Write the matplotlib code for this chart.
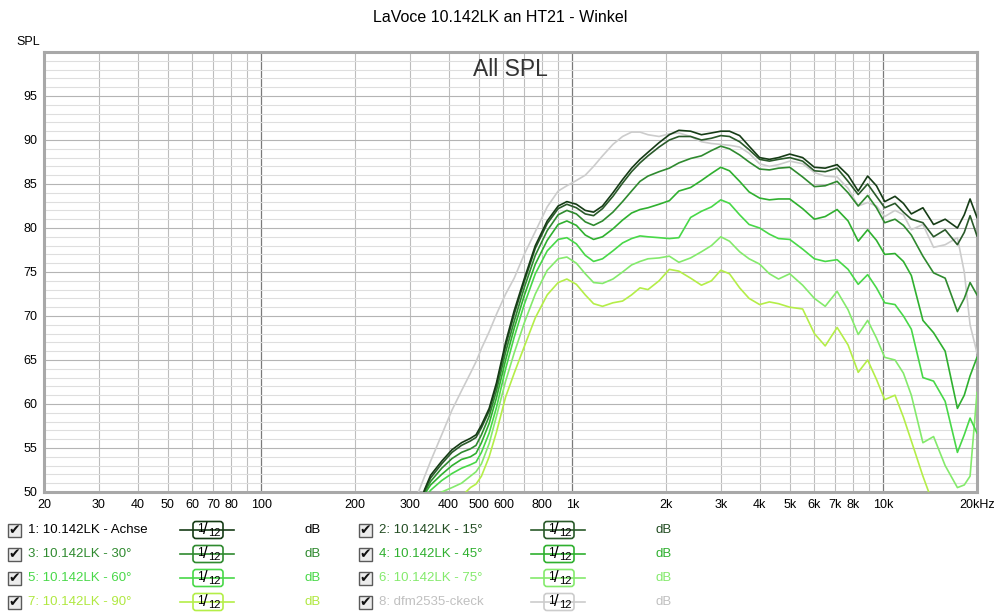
import numpy as np
import matplotlib
matplotlib.use("Agg")
import matplotlib.pyplot as plt
from matplotlib.patches import Rectangle, FancyBboxPatch
from matplotlib.lines import Line2D
from matplotlib.transforms import IdentityTransform
from matplotlib.ticker import NullLocator

plt.rcParams['font.family'] = ['Liberation Sans', 'DejaVu Sans']

# frequency points (Hz)
freq = [320, 335, 350, 380, 410, 440, 470, 490, 510, 540,
        570, 610, 650, 700, 760, 830, 900, 960, 1030, 1100,
        1170, 1250, 1350, 1450, 1550, 1650, 1750, 1900, 2050, 2200,
        2400, 2600, 2800, 3000, 3200, 3450, 3700, 4000, 4300, 4600,
        5000, 5500, 6000, 6500, 7100, 7700, 8300, 8900, 9500, 10100,
        10900, 11600, 12300, 13400, 14500, 15800, 17300, 18200, 19000, 20000]

achse = [48.0, 50.3, 51.9, 53.5, 54.8, 55.6, 56.1, 56.5, 57.6, 59.5,
         62.4, 67.0, 70.6, 74.2, 78.0, 80.8, 82.5, 83.0, 82.7, 82.0,
         81.8, 82.5, 84.0, 85.5, 86.8, 87.8, 88.6, 89.7, 90.6, 91.1,
         91.0, 90.6, 90.8, 91.0, 91.0, 90.5, 89.3, 88.0, 87.8, 88.0,
         88.4, 88.0, 86.9, 86.8, 87.2, 86.0, 84.2, 85.9, 84.8, 83.0,
         83.6, 82.8, 81.6, 82.3, 80.4, 81.0, 80.0, 81.5, 83.3, 81.2]

deg15 = [48.0, 50.2, 51.6, 53.2, 54.5, 55.3, 55.8, 56.2, 57.3, 59.2,
         62.1, 66.6, 70.2, 73.9, 77.7, 80.5, 82.2, 82.7, 82.3, 81.6,
         81.4, 82.2, 83.6, 85.1, 86.4, 87.4, 88.2, 89.2, 90.0, 90.4,
         90.4, 90.0, 90.2, 90.5, 90.4, 89.8, 88.9, 87.8, 87.6, 87.8,
         88.0, 87.6, 86.5, 86.4, 86.8, 85.3, 83.8, 85.0, 83.6, 82.3,
         82.8, 81.8, 81.0, 80.6, 79.0, 79.8, 78.1, 79.5, 81.4, 79.1]

deg30 = [48.0, 50.0, 51.2, 52.7, 53.8, 54.5, 54.9, 55.3, 56.5, 58.6,
         61.5, 65.9, 69.4, 73.2, 76.9, 79.7, 81.5, 82.0, 81.6, 80.7,
         80.3, 80.8, 81.8, 83.0, 84.2, 85.3, 85.9, 86.4, 86.8, 87.4,
         87.9, 88.2, 88.8, 89.3, 89.0, 88.3, 87.5, 86.7, 86.6, 86.8,
         86.9, 85.8, 84.7, 84.8, 85.3, 84.0, 82.5, 83.7, 82.3, 80.6,
         81.0, 80.3, 79.2, 76.8, 74.9, 74.3, 70.5, 72.0, 73.8, 72.4]

deg45 = [48.0, 49.8, 50.8, 52.0, 53.0, 53.7, 54.0, 54.4, 55.6, 57.8,
         60.7, 65.0, 68.6, 72.3, 75.9, 78.6, 80.4, 80.8, 80.3, 79.2,
         78.7, 79.0, 79.9, 80.9, 81.7, 82.1, 82.3, 82.7, 83.1, 84.2,
         84.6, 85.4, 86.2, 86.9, 86.5, 85.3, 84.1, 83.4, 83.2, 83.3,
         83.3, 82.2, 81.0, 81.3, 82.1, 80.8, 78.5, 79.8, 78.6, 77.0,
         77.1, 76.2, 74.6, 69.5, 68.1, 66.0, 59.5, 61.0, 63.2, 65.3]

deg60 = [48.0, 49.2, 50.2, 51.3, 52.1, 52.7, 53.1, 53.4, 54.5, 56.7,
         59.6, 64.0, 67.6, 71.3, 74.8, 77.4, 78.7, 78.9, 78.2, 76.9,
         76.2, 76.5, 77.4, 78.3, 78.8, 79.1, 79.0, 78.9, 78.8, 78.9,
         81.2, 81.9, 82.4, 83.2, 82.8, 81.5, 80.4, 80.0, 79.3, 78.8,
         78.7, 77.6, 76.5, 76.2, 76.4, 75.3, 73.6, 74.7, 73.2, 71.5,
         71.3, 70.0, 68.5, 63.0, 62.6, 60.3, 54.5, 56.5, 58.4, 56.7]

deg75 = [48.0, 48.5, 49.0, 50.0, 50.5, 51.0, 51.8, 52.3, 53.2, 55.5,
         58.6, 62.6, 65.8, 69.2, 72.5, 75.2, 76.5, 76.7, 76.0, 74.8,
         73.8, 73.7, 74.2, 75.0, 75.8, 76.2, 76.5, 76.6, 76.8, 76.1,
         76.6, 77.3, 78.0, 79.0, 78.5, 77.3, 76.5, 75.9, 74.8, 74.2,
         74.8, 73.5, 72.0, 71.1, 72.8, 70.7, 67.9, 69.5, 67.5, 65.3,
         65.0, 63.5, 61.0, 55.6, 56.3, 53.0, 50.5, 50.8, 51.8, 61.3]

deg90 = [45.0, 45.0, 45.5, 46.5, 47.5, 49.5, 50.5, 50.9, 51.8, 54.0,
         56.8, 60.8, 63.5, 66.5, 69.8, 72.4, 73.8, 74.2, 73.6, 72.4,
         71.4, 71.1, 71.5, 71.7, 72.4, 73.2, 73.0, 74.0, 75.3, 75.1,
         74.3, 73.5, 74.0, 75.2, 74.8, 73.2, 72.0, 71.3, 71.6, 71.4,
         71.0, 70.8, 68.0, 66.6, 68.7, 66.7, 63.6, 65.0, 62.8, 60.5,
         61.0, 58.5, 55.8, 51.8, 48.5, 46.0, 45.0, 45.0, 45.0, 45.0]

dfm2535 = [50.0, 51.8, 53.5, 56.5, 59.3, 61.5, 63.5, 64.8, 66.3, 68.2,
           70.2, 72.5, 74.3, 77.0, 79.6, 82.4, 84.2, 84.8, 85.4, 86.0,
           87.0, 88.2, 89.5, 90.4, 90.9, 90.9, 90.6, 90.4, 90.7, 90.8,
           90.4, 89.8, 89.6, 89.5, 89.4, 89.2, 88.5, 87.3, 87.0, 87.2,
           87.6, 87.3, 86.3, 85.9, 85.8, 84.5, 82.5, 82.9, 82.5, 81.3,
           82.0, 81.5, 79.8, 80.4, 77.8, 78.1, 78.9, 75.0, 69.0, 65.8]

curves = [achse, deg15, deg30, deg45, deg60, deg75, deg90, dfm2535]
names = ["1: 10.142LK - Achse", "2: 10.142LK - 15°", "3: 10.142LK - 30°",
         "4: 10.142LK - 45°", "5: 10.142LK - 60°", "6: 10.142LK - 75°",
         "7: 10.142LK - 90°", "8: dfm2535-ckeck"]
line_colors = ["#163c16", "#2a5a2a", "#2f8a2f", "#2fb02f", "#48d848",
               "#84ea6c", "#b4ee48", "#cccccc"]
text_colors = ["#000000", "#234d23", "#2f8a2f", "#2fb02f", "#48d848",
               "#84ea6c", "#b0e840", "#c0c0c0"]

xtick_vals = [20, 30, 40, 50, 60, 70, 80, 100, 200, 300, 400, 500, 600, 800,
              1000, 2000, 3000, 4000, 5000, 6000, 7000, 8000, 10000, 20000]
xtick_labels = ["20", "30", "40", "50", "60", "70", "80", "100", "200", "300",
                "400", "500", "600", "800", "1k", "2k", "3k", "4k", "5k", "6k",
                "7k", "8k", "10k", "20kHz"]
ytick_vals = [50, 55, 60, 65, 70, 75, 80, 85, 90, 95]

W, H = 1000, 616
fig = plt.figure(figsize=(W / 100, H / 100), dpi=100)
ax = fig.add_axes([44 / W, 1 - 492 / H, 933 / W, 440 / H])
ax.set_xscale('log')
ax.set_xlim(20, 20000)
ax.set_ylim(50, 100)

# grid
for dec in [10, 100, 1000, 10000]:
    for m in range(1, 10):
        f = dec * m
        if f < 20 or f > 20000:
            continue
        if m == 1:
            ax.axvline(f, color="#7a7a7a", lw=0.9, zorder=1)
        else:
            ax.axvline(f, color="#bdbdbd", lw=0.8, zorder=1)
for v in range(51, 100):
    if v % 5 == 0:
        ax.axhline(v, color="#b4b4b4", lw=0.8, zorder=1)
    else:
        ax.axhline(v, color="#dedede", lw=0.8, zorder=1)

for i in range(len(curves) - 1, -1, -1):
    ax.plot(freq, curves[i], color=line_colors[i], lw=1.2,
            solid_joinstyle="round", zorder=3 + (8 - i))

ax.xaxis.set_minor_locator(NullLocator())
ax.set_xticks(xtick_vals)
ax.set_xticklabels(xtick_labels)
ax.set_yticks(ytick_vals)
ax.set_yticklabels([str(v) for v in ytick_vals])
ax.tick_params(length=0, labelsize=9, pad=5)
for s in ax.spines.values():
    s.set_color("#a8a8a8")
    s.set_linewidth(2.2)

fig.text(0.5, 1 - 18 / H, "LaVoce 10.142LK an HT21 - Winkel", ha="center",
         va="center", fontsize=11.5)
fig.text(28 / W, 1 - 42 / H, "SPL", ha="center", va="center", fontsize=9)
fig.text(510 / W, 1 - 70 / H, "All SPL", ha="center", va="center",
         fontsize=16.5, color="#333333")

# legend below the plot
tr = IdentityTransform()
row_y = [530, 554, 578, 602]
col_x = [0, 351]
for i, name in enumerate(names):
    col = i % 2
    row = i // 2
    y = H - row_y[row]
    x0 = col_x[col]
    fig.add_artist(Rectangle((x0 + 8, y - 7), 13, 13, transform=tr,
                             fc="#ececec", ec="#5a5a5a", lw=1))
    fig.text(x0 + 14.5, y - 0.5, "\u2714", transform=tr, ha="center",
             va="center", fontsize=10, family="DejaVu Sans", color="#111111")
    fig.text(x0 + 28, y, name, transform=tr, ha="left", va="center",
             fontsize=9.5, color=text_colors[i])
    c = line_colors[i]
    fig.add_artist(Line2D([x0 + 180, x0 + 234], [y, y], transform=tr,
                          color=c, lw=1.2))
    fig.add_artist(FancyBboxPatch((x0 + 193, y - 8.5), 30, 17,
                                  boxstyle="round,pad=0,rounding_size=3",
                                  transform=tr, fc="white", ec=c, lw=1.2))
    fig.text(x0 + 200, y + 1.5, "1", transform=tr, ha="center", va="center",
             fontsize=8.5)
    fig.text(x0 + 205.5, y, "/", transform=tr, ha="center", va="center",
             fontsize=12)
    fig.text(x0 + 214, y - 2.5, "12", transform=tr, ha="center", va="center",
             fontsize=8)
    fig.text(x0 + 313, y, "dB", transform=tr, ha="center", va="center",
             fontsize=9.5, color=text_colors[i])

fig.savefig("out.png", dpi=100)
